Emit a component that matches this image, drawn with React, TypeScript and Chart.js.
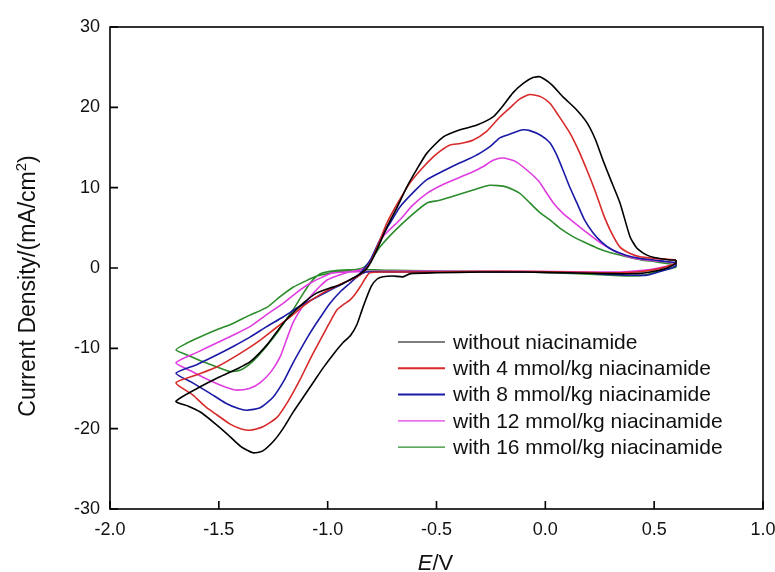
import React, { useEffect, useRef } from 'react';
import { Chart, registerables } from 'chart.js';

Chart.register(...registerables);

// ---- data (E / V, current density / (mA/cm^2)), each a closed CV loop ----
const seriesLabels = [
  'without niacinamide',
  'with 4 mmol/kg niacinamide',
  'with 8 mmol/kg niacinamide',
  'with 12 mmol/kg niacinamide',
  'with 16 mmol/kg niacinamide',
];

const blackCurve: [number, number][] = [
  [0.6, 1.0], [0.57, 1.0], [0.5, 1.3], [0.467, 1.6], [0.42, 2.5], [0.389, 3.9], [0.343, 8.1], [0.3, 11.0],
  [0.265, 13.4], [0.23, 16.0], [0.191, 18.1], [0.14, 19.8], [0.081, 21.3], [0.03, 22.8], [-0.025, 23.8],
  [-0.057, 23.7], [-0.1, 23.0], [-0.149, 21.8], [-0.2, 20.0], [-0.24, 18.8], [-0.314, 17.8], [-0.392, 17.2],
  [-0.47, 16.3], [-0.544, 14.3], [-0.59, 12.3], [-0.636, 10.1], [-0.68, 7.6], [-0.728, 5.1], [-0.77, 2.5],
  [-0.8, 0.8], [-0.825, -0.2], [-0.86, -0.9], [-0.9, -1.5], [-0.943, -2.1], [-0.99, -2.5], [-1.049, -3.1],
  [-1.1, -4.1], [-1.16, -5.6], [-1.205, -6.9], [-1.28, -9.6], [-1.357, -11.7], [-1.42, -12.6], [-1.5, -13.6],
  [-1.6, -15.0], [-1.697, -16.6], [-1.64, -17.2], [-1.587, -17.9], [-1.52, -19.3], [-1.46, -20.7],
  [-1.4, -22.2], [-1.343, -23.0], [-1.3, -22.8], [-1.25, -21.6], [-1.205, -20.0], [-1.16, -18.0],
  [-1.11, -16.0], [-1.06, -14.0], [-1.02, -12.4], [-0.97, -10.6], [-0.93, -9.3], [-0.895, -8.4],
  [-0.865, -7.0], [-0.838, -4.9], [-0.8, -2.3], [-0.774, -1.4], [-0.746, -1.1], [-0.7, -1.0], [-0.654, -1.1],
  [-0.62, -0.7], [-0.5, -0.6], [-0.3, -0.5], [-0.1, -0.5], [0.1, -0.6], [0.3, -0.7], [0.42, -0.7],
  [0.5, -0.4], [0.56, 0.0], [0.6, 0.6], [0.6, 1.0],
];

const redCurve: [number, number][] = [
  [0.6, 1.0], [0.55, 1.1], [0.5, 1.2], [0.435, 1.4], [0.39, 1.8], [0.343, 2.6], [0.3, 4.6], [0.265, 6.8],
  [0.23, 9.5], [0.191, 12.2], [0.15, 14.8], [0.113, 16.8], [0.06, 19.0], [0.021, 20.5], [-0.02, 21.3],
  [-0.071, 21.6], [-0.12, 21.0], [-0.16, 20.0], [-0.209, 18.8], [-0.27, 17.0], [-0.333, 15.9], [-0.39, 15.5],
  [-0.438, 15.3], [-0.48, 14.6], [-0.516, 13.8], [-0.57, 12.3], [-0.622, 10.6], [-0.68, 8.0], [-0.728, 5.6],
  [-0.77, 2.8], [-0.8, 0.9], [-0.83, -0.3], [-0.865, -1.1], [-0.94, -2.0], [-1.022, -3.1], [-1.1, -4.5],
  [-1.173, -6.1], [-1.24, -7.5], [-1.311, -9.0], [-1.4, -10.6], [-1.508, -12.3], [-1.6, -13.3],
  [-1.697, -14.3], [-1.62, -15.8], [-1.56, -17.3], [-1.508, -18.3], [-1.45, -19.4], [-1.4, -20.0],
  [-1.357, -20.2], [-1.3, -19.8], [-1.233, -18.6], [-1.18, -16.5], [-1.127, -13.9], [-1.08, -11.3],
  [-1.035, -9.0], [-0.995, -7.0], [-0.957, -5.2], [-0.925, -4.5], [-0.898, -4.0], [-0.875, -3.3],
  [-0.852, -2.4], [-0.82, -1.0], [-0.806, -0.6], [-0.75, -0.5], [-0.5, -0.5], [-0.2, -0.4], [0.1, -0.5],
  [0.3, -0.6], [0.42, -0.5], [0.5, -0.2], [0.56, 0.2], [0.6, 0.6], [0.6, 1.0],
];

const blueCurve: [number, number][] = [
  [0.6, 0.7], [0.55, 0.8], [0.5, 1.0], [0.435, 1.2], [0.37, 1.6], [0.311, 2.2], [0.26, 3.2], [0.219, 4.4],
  [0.18, 6.0], [0.145, 8.1], [0.11, 10.2], [0.081, 12.2], [0.05, 14.2], [0.021, 15.6], [-0.02, 16.5],
  [-0.071, 17.1], [-0.103, 17.2], [-0.15, 16.8], [-0.209, 16.2], [-0.25, 15.2], [-0.3, 14.3], [-0.35, 13.6],
  [-0.392, 13.1], [-0.46, 12.2], [-0.544, 11.0], [-0.6, 9.6], [-0.668, 7.6], [-0.72, 5.3], [-0.76, 3.5],
  [-0.8, 1.2], [-0.83, 0.0], [-0.86, -0.9], [-0.898, -1.5], [-0.97, -2.5], [-1.049, -3.6], [-1.13, -4.8],
  [-1.205, -6.1], [-1.28, -7.3], [-1.357, -8.6], [-1.43, -9.7], [-1.508, -10.8], [-1.6, -12.0],
  [-1.697, -13.1], [-1.62, -14.3], [-1.54, -15.6], [-1.47, -16.8], [-1.41, -17.5], [-1.371, -17.7],
  [-1.31, -17.4], [-1.251, -16.1], [-1.2, -14.0], [-1.159, -11.8], [-1.12, -9.9], [-1.081, -8.1],
  [-1.035, -6.2], [-0.989, -4.4], [-0.94, -2.9], [-0.898, -1.9], [-0.86, -1.0], [-0.82, -0.5], [-0.7, -0.5],
  [-0.4, -0.5], [-0.1, -0.5], [0.15, -0.6], [0.3, -0.8], [0.4, -0.9], [0.467, -0.9], [0.52, -0.5],
  [0.57, -0.1], [0.6, 0.3], [0.6, 0.7],
];

const magentaCurve: [number, number][] = [
  [0.6, 0.6], [0.55, 0.8], [0.5, 0.9], [0.435, 1.1], [0.37, 1.5], [0.311, 2.2], [0.25, 3.2], [0.191, 4.4],
  [0.14, 5.5], [0.081, 6.8], [0.04, 8.0], [0.007, 9.3], [-0.03, 10.8], [-0.085, 12.2], [-0.14, 13.3],
  [-0.195, 13.7], [-0.24, 13.4], [-0.287, 12.6], [-0.34, 11.9], [-0.392, 11.3], [-0.47, 10.4],
  [-0.544, 9.3], [-0.61, 7.8], [-0.668, 6.0], [-0.746, 3.9], [-0.79, 1.5], [-0.82, 0.2], [-0.86, -0.3],
  [-0.92, -0.5], [-0.975, -0.6], [-1.03, -1.2], [-1.081, -1.9], [-1.14, -3.0], [-1.205, -4.4],
  [-1.28, -5.8], [-1.357, -7.3], [-1.43, -8.3], [-1.508, -9.3], [-1.6, -10.5], [-1.697, -11.8],
  [-1.63, -12.8], [-1.573, -13.6], [-1.5, -14.5], [-1.45, -15.0], [-1.417, -15.2], [-1.36, -15.0],
  [-1.311, -14.3], [-1.26, -12.9], [-1.219, -11.1], [-1.19, -9.0], [-1.159, -6.8], [-1.12, -5.0],
  [-1.081, -3.6], [-1.04, -2.4], [-1.003, -1.5], [-0.95, -0.9], [-0.898, -0.5], [-0.75, -0.4],
  [-0.4, -0.4], [-0.1, -0.4], [0.2, -0.5], [0.35, -0.5], [0.45, -0.3], [0.52, 0.0], [0.6, 0.5], [0.6, 0.6],
];

const greenCurve: [number, number][] = [
  [0.6, 0.4], [0.55, 0.6], [0.5, 0.8], [0.44, 1.0], [0.375, 1.4], [0.3, 1.9], [0.237, 2.5], [0.18, 3.2],
  [0.127, 3.9], [0.07, 4.9], [0.021, 6.0], [-0.025, 6.9], [-0.071, 8.1], [-0.117, 9.3], [-0.18, 10.1],
  [-0.255, 10.3], [-0.32, 9.8], [-0.38, 9.3], [-0.438, 8.8], [-0.49, 8.4], [-0.544, 8.1], [-0.622, 6.4],
  [-0.7, 4.4], [-0.76, 2.6], [-0.8, 1.0], [-0.84, 0.0], [-0.9, -0.3], [-0.957, -0.5], [-1.049, -1.0],
  [-1.1, -1.6], [-1.159, -2.4], [-1.22, -3.6], [-1.279, -4.9], [-1.36, -5.9], [-1.435, -6.9],
  [-1.51, -7.7], [-1.587, -8.6], [-1.65, -9.4], [-1.697, -10.2], [-1.64, -10.9], [-1.587, -11.5],
  [-1.52, -12.2], [-1.449, -12.9], [-1.4, -12.7], [-1.36, -12.0], [-1.325, -11.1], [-1.28, -9.7],
  [-1.233, -8.1], [-1.19, -6.4], [-1.159, -5.2], [-1.12, -3.5], [-1.081, -1.9], [-1.05, -1.0],
  [-1.022, -0.6], [-0.95, -0.3], [-0.85, -0.2], [-0.7, -0.3], [-0.4, -0.4], [-0.1, -0.5], [0.15, -0.7],
  [0.3, -0.9], [0.4, -1.0], [0.47, -0.8], [0.53, -0.3], [0.6, 0.1], [0.6, 0.4],
];

const seriesCurves = [blackCurve, redCurve, blueCurve, magentaCurve, greenCurve];
const seriesColors = ['#000000', '#d82a2a', '#1a1aa6', '#e03ce0', '#2c8c2c'];
const legendLineWidths = [1.2, 2, 2, 1.2, 1.2];

const xMin = -2.0;
const xMax = 1.0;
const xStep = 0.5;
const yMin = -30;
const yMax = 30;
const yStep = 10;

const FONT = '"Liberation Sans", Arial, Helvetica, sans-serif';

const framePlugin = {
  id: 'frameAndTicks',
  afterDraw(chart: any) {
    const { ctx, chartArea: a, scales } = chart;
    ctx.save();
    ctx.strokeStyle = '#000';
    ctx.lineWidth = 1.6;
    ctx.strokeRect(a.left, a.top, a.right - a.left, a.bottom - a.top);
    ctx.lineWidth = 1.6;
    ctx.beginPath();
    scales.x.ticks.forEach((t: any) => {
      const px = scales.x.getPixelForValue(t.value);
      ctx.moveTo(px, a.bottom);
      ctx.lineTo(px, a.bottom - 8);
    });
    scales.y.ticks.forEach((t: any) => {
      const py = scales.y.getPixelForValue(t.value);
      ctx.moveTo(a.left, py);
      ctx.lineTo(a.left + 8, py);
    });
    ctx.stroke();
    ctx.restore();
  },
};

const titlesPlugin = {
  id: 'axisTitles',
  afterDraw(chart: any) {
    const { ctx, chartArea: a } = chart;
    ctx.save();
    ctx.fillStyle = '#111';
    ctx.textBaseline = 'alphabetic';
    ctx.textAlign = 'left';
    // x title: italic E + /V
    ctx.font = `italic 22px ${FONT}`;
    const wE = ctx.measureText('E').width;
    ctx.font = `22px ${FONT}`;
    const wV = ctx.measureText('/V').width;
    const cx = (a.left + a.right) / 2 - 1;
    const x0 = cx - (wE + wV) / 2;
    ctx.font = `italic 22px ${FONT}`;
    ctx.fillText('E', x0, 570);
    ctx.font = `22px ${FONT}`;
    ctx.fillText('/V', x0 + wE, 570);

    // y title, rotated
    const main = 'Current Density/(mA/cm';
    const sup = '2';
    const tail = ')';
    ctx.font = `23px ${FONT}`;
    const wMain = ctx.measureText(main).width;
    const wTail = ctx.measureText(tail).width;
    ctx.font = `15px ${FONT}`;
    const wSup = ctx.measureText(sup).width;
    const total = wMain + wSup + wTail;
    ctx.translate(35, 286);
    ctx.rotate(-Math.PI / 2);
    let x = -total / 2;
    ctx.font = `23px ${FONT}`;
    ctx.fillText(main, x, 0);
    x += wMain;
    ctx.font = `15px ${FONT}`;
    ctx.fillText(sup, x, -9);
    x += wSup;
    ctx.font = `23px ${FONT}`;
    ctx.fillText(tail, x, 0);
    ctx.restore();
  },
};

const legendPlugin = {
  id: 'innerLegend',
  afterDraw(chart: any) {
    const { ctx } = chart;
    ctx.save();
    ctx.font = `21px ${FONT}`;
    ctx.textBaseline = 'middle';
    ctx.textAlign = 'left';
    chart.data.datasets.forEach((ds: any, i: number) => {
      const y = 342 + i * 26.3;
      ctx.strokeStyle = ds.borderColor;
      ctx.lineWidth = legendLineWidths[i];
      ctx.beginPath();
      ctx.moveTo(398, y);
      ctx.lineTo(445, y);
      ctx.stroke();
      ctx.fillStyle = '#111';
      ctx.fillText(ds.label, 453, y + 1);
    });
    ctx.restore();
  },
};

export default function App() {
  const canvasRef = useRef<HTMLCanvasElement | null>(null);

  useEffect(() => {
    if (!canvasRef.current) return;
    const chart = new Chart(canvasRef.current, {
      type: 'line',
      data: {
        datasets: seriesCurves.map((curve, i) => ({
          label: seriesLabels[i],
          data: curve.map(([x, y]) => ({ x, y })),
          borderColor: seriesColors[i],
          backgroundColor: seriesColors[i],
          borderWidth: 1.6,
          pointRadius: 0,
          tension: 0.2,
          fill: false,
        })),
      },
      options: {
        responsive: false,
        animation: false,
        devicePixelRatio: 1,
        layout: { padding: { left: 0, right: 12, top: 27, bottom: 0 } },
        plugins: {
          legend: { display: false },
          tooltip: { enabled: false },
          title: { display: false },
        },
        scales: {
          x: {
            type: 'linear',
            min: xMin,
            max: xMax,
            border: { display: false },
            grid: { display: false, drawTicks: false },
            ticks: {
              stepSize: xStep,
              padding: 10,
              color: '#111',
              font: { family: FONT, size: 18 },
              maxRotation: 0,
              callback: (v: any) => Number(v).toFixed(1),
            },
            afterFit: (s: any) => {
              s.height = 63;
              s.paddingLeft = 0;
              s.paddingRight = 0;
            },
          },
          y: {
            type: 'linear',
            min: yMin,
            max: yMax,
            border: { display: false },
            grid: { display: false, drawTicks: false },
            ticks: {
              stepSize: yStep,
              padding: 10,
              color: '#111',
              font: { family: FONT, size: 18 },
              callback: (v: any) => String(v),
            },
            afterFit: (s: any) => {
              s.width = 110;
              s.paddingTop = 0;
              s.paddingBottom = 0;
            },
          },
        },
      },
      plugins: [framePlugin, titlesPlugin, legendPlugin],
    });
    return () => chart.destroy();
  }, []);

  return (
    <div style={{ position: 'absolute', left: 0, top: 0, width: 775, height: 572, background: '#fff' }}>
      <canvas ref={canvasRef} width={775} height={572} style={{ display: 'block' }} />
    </div>
  );
}
